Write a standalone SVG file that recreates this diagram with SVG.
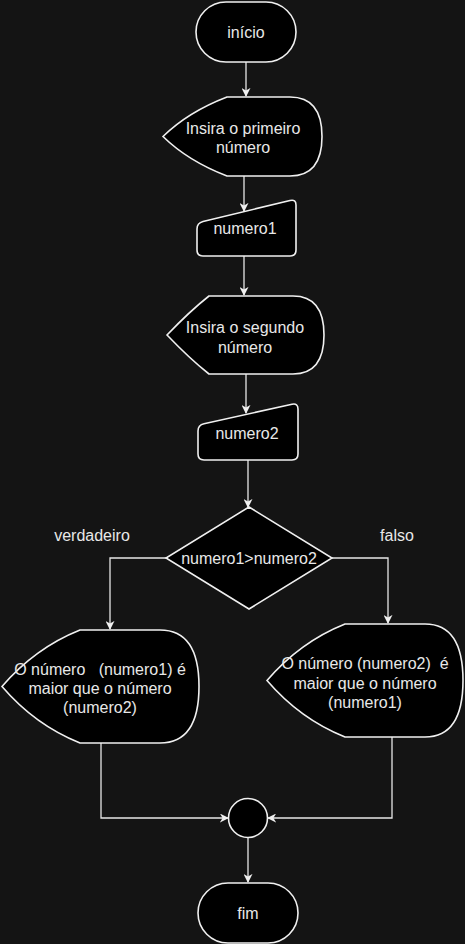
<svg xmlns="http://www.w3.org/2000/svg" width="465" height="944" viewBox="0 0 465 944">
<defs>
<style>
.bg{fill:#141414}
.shape{fill:#000;stroke:#f0f0f0;stroke-width:1.6}
.edge{fill:none;stroke:#e6e6e6;stroke-width:1.3}
text{font-family:"Liberation Sans",Arial,sans-serif;font-size:16px;fill:#e8e8e8;text-anchor:middle;dominant-baseline:central;white-space:pre}
</style>
<marker id="arr" viewBox="0 0 10 10" refX="9" refY="5" markerWidth="9" markerHeight="9" markerUnits="userSpaceOnUse" orient="auto">
<path d="M0,0 L10,5 L0,10 L3,5 Z" fill="#f0f0f0"/>
</marker>
</defs>
<rect class="bg" x="0" y="0" width="465" height="944"/>

<g id="connectors">
<path class="edge" d="M246,62 V96" marker-end="url(#arr)"/>
<path class="edge" d="M244,176 V211" marker-end="url(#arr)"/>
<path class="edge" d="M244,256 V295" marker-end="url(#arr)"/>
<path class="edge" d="M246,374 V413" marker-end="url(#arr)"/>
<path class="edge" d="M248,460 V507" marker-end="url(#arr)"/>
<path class="edge" d="M166,558 H110 V629" marker-end="url(#arr)"/>
<path class="edge" d="M332,558 H388 V623" marker-end="url(#arr)"/>
<path class="edge" d="M101,743 V818 H228" marker-end="url(#arr)"/>
<path class="edge" d="M392,737 V818 H268" marker-end="url(#arr)"/>
<path class="edge" d="M248,837 V882" marker-end="url(#arr)"/>
</g>

<g id="inicio">
<rect class="shape" x="196" y="2" width="100" height="60" rx="30" ry="30"/>
<text x="246" y="32">início</text>
</g>

<g id="insira1">
<path class="shape" d="M163,136.5 Q188,112 227,97 L290,97 Q322,97 322,136.5 Q322,176 290,176 L227,176 Q188,161 163,136.5 Z"/>
<text x="243" y="128">Insira o primeiro</text>
<text x="243" y="147">número</text>
</g>

<g id="numero1">
<path class="shape" d="M197,229 Q197,223 203,221.5 L290,200.5 Q296,199 296,205 L296,250 Q296,256 290,256 L203,256 Q197,256 197,250 Z"/>
<text x="245" y="228">numero1</text>
</g>

<g id="insira2">
<path class="shape" d="M167,335 Q190,311 209,296 L293,296 Q324,296 324,335 Q324,374 293,374 L209,374 Q190,359 167,335 Z"/>
<text x="245" y="327">Insira o segundo</text>
<text x="245" y="347">número</text>
</g>

<g id="numero2">
<path class="shape" d="M198,431 Q198,425 204,423.7 L292,404.3 Q298,403 298,409 L298,454 Q298,460 292,460 L204,460 Q198,460 198,454 Z"/>
<text x="247" y="433">numero2</text>
</g>

<g id="decisao">
<path class="shape" d="M249,507 L332,558 L249,609 L166,558 Z"/>
<text x="249" y="558">numero1&gt;numero2</text>
</g>

<g id="label-verdadeiro">
<text x="92" y="535">verdadeiro</text>
</g>
<g id="label-falso">
<text x="397" y="535">falso</text>
</g>

<g id="maior1">
<path class="shape" d="M2,686.5 Q35,648 80,630 L160,630 Q199,630 199,686.5 Q199,743 160,743 L80,743 Q35,725 2,686.5 Z"/>
<text x="100" y="669">O número   (numero1) é</text>
<text x="100" y="688">maior que o número</text>
<text x="100" y="707">(numero2)</text>
</g>

<g id="maior2">
<path class="shape" d="M267,680.5 Q300,642 345,624 L425,624 Q463,624 463,680.5 Q463,737 425,737 L345,737 Q300,719 267,680.5 Z"/>
<text x="365" y="663">O número (numero2)  é</text>
<text x="365" y="683">maior que o número</text>
<text x="365" y="702">(numero1)</text>
</g>

<g id="juncao">
<circle class="shape" cx="248" cy="818" r="19.5" stroke-width="1.2"/>
</g>

<g id="fim">
<rect class="shape" x="198" y="883" width="100" height="60" rx="30" ry="30"/>
<text x="248" y="913">fim</text>
</g>
</svg>
